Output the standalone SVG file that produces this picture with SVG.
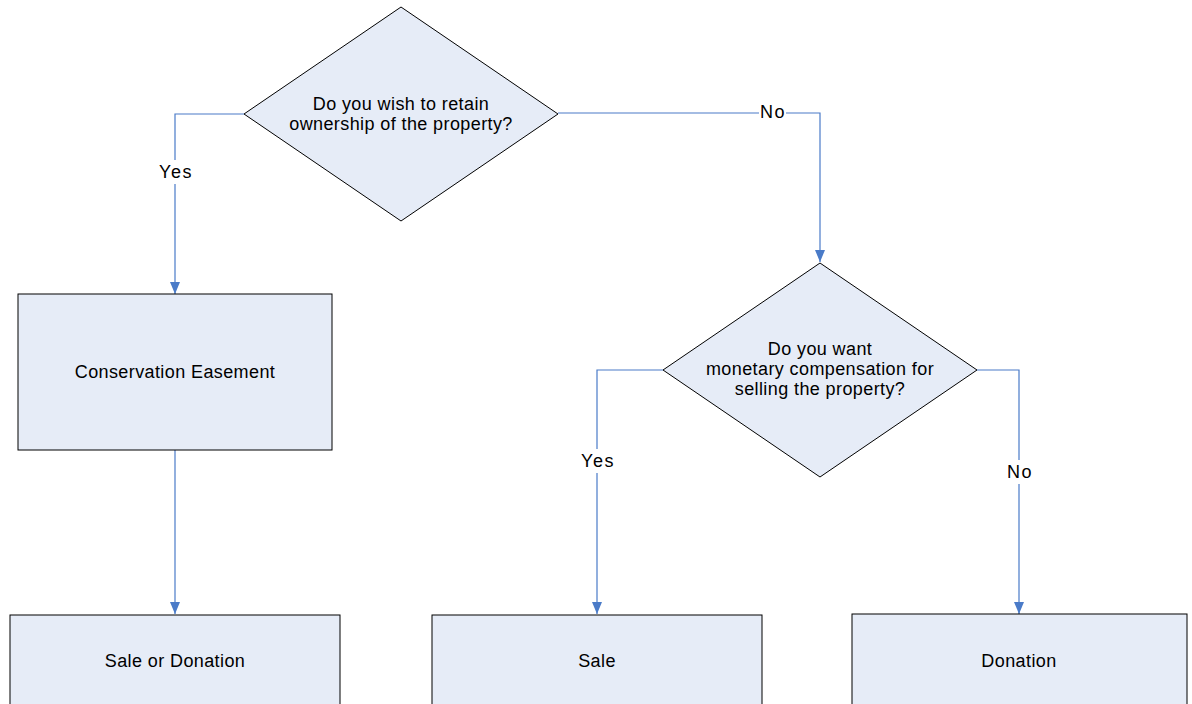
<svg xmlns="http://www.w3.org/2000/svg" width="1192" height="704" viewBox="0 0 1192 704">
<style>
.node{fill:#E6ECF7;stroke:#000;stroke-width:1}
.t{font-family:"Liberation Sans",Arial,sans-serif;font-size:18px;letter-spacing:0.4px;fill:#000;text-anchor:middle}
.l{letter-spacing:1.5px}
.c{fill:none;stroke:#4A7BC8;stroke-width:1.2}
.lbl{fill:#fff}
</style>
<defs>
<marker id="ah" markerWidth="12" markerHeight="10" refX="12" refY="5" orient="auto" markerUnits="userSpaceOnUse">
<path d="M0,0 L12,5 L0,10 Z" fill="#4A7BC8"/>
</marker>
</defs>
<rect width="1192" height="704" fill="#fff"/>
<g id="connectors">
<path class="c" d="M244,114 H175 V294" marker-end="url(#ah)"/>
<path class="c" d="M558,113 H820 V262" marker-end="url(#ah)"/>
<path class="c" d="M175,450 V614" marker-end="url(#ah)"/>
<path class="c" d="M663,370 H597 V614" marker-end="url(#ah)"/>
<path class="c" d="M977,370 H1019 V614" marker-end="url(#ah)"/>
<rect class="lbl" x="157" y="160" width="37" height="24"/>
<text class="t l" x="176" y="178">Yes</text>
<rect class="lbl" x="759" y="101" width="27" height="22"/>
<text class="t l" x="773" y="118">No</text>
<rect class="lbl" x="579" y="449" width="37" height="24"/>
<text class="t l" x="598" y="467">Yes</text>
<rect class="lbl" x="1006" y="460" width="27" height="24"/>
<text class="t l" x="1020" y="478">No</text>
</g>
<g id="q1">
<polygon class="node" points="401,7 558,114 401,221 244,114"/>
<text class="t" x="401" y="110">Do you wish to retain</text>
<text class="t" x="401" y="130">ownership of the property?</text>
</g>
<g id="q2">
<polygon class="node" points="820,263 977,370 820,477 663,370"/>
<text class="t" x="820" y="355">Do you want</text>
<text class="t" x="820" y="375">monetary compensation for</text>
<text class="t" x="820" y="395">selling the property?</text>
</g>
<g id="easement">
<rect class="node" x="18" y="294" width="314" height="156"/>
<text class="t" x="175" y="378">Conservation Easement</text>
</g>
<g id="saleOrDonation">
<rect class="node" x="10" y="615" width="330" height="100"/>
<text class="t" x="175" y="667">Sale or Donation</text>
</g>
<g id="sale">
<rect class="node" x="432" y="615" width="330" height="100"/>
<text class="t" x="597" y="667">Sale</text>
</g>
<g id="donation">
<rect class="node" x="852" y="614" width="335" height="100"/>
<text class="t" x="1019" y="667">Donation</text>
</g>
</svg>
